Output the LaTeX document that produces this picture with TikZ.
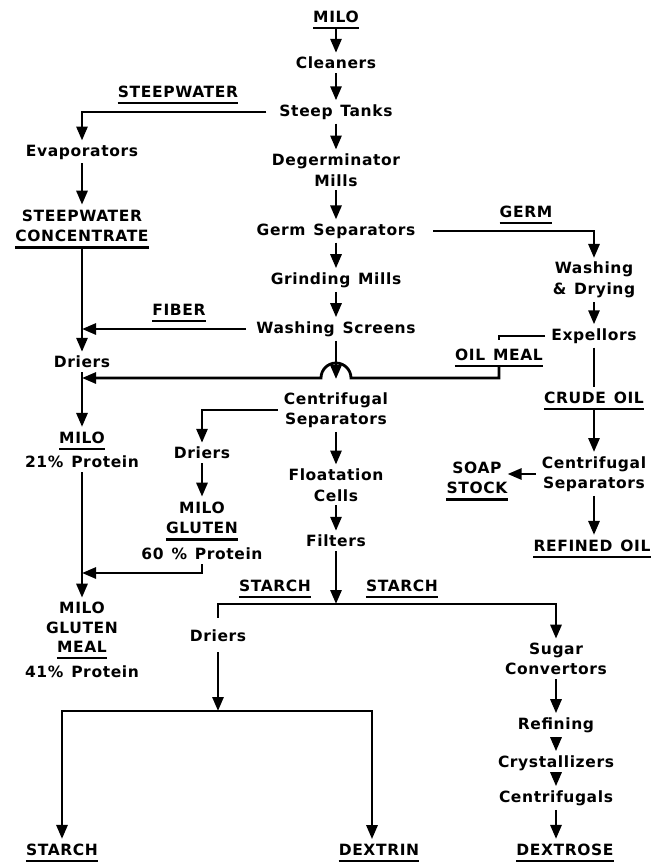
\documentclass[tikz,border=0pt]{standalone}
\usepackage{fontspec}
\newfontfamily\flowfont{DejaVu Sans}[LetterSpace=4, WordSpace=1.3]
\usetikzlibrary{arrows.meta}

\tikzset{
  proc/.style={font=\flowfont\bfseries\fontsize{15.5}{20.5}\selectfont, align=center, inner xsep=6pt, inner ysep=4pt},
  prod/.style={proc, inner xsep=0pt, inner ysep=5pt,
    append after command={(\tikzlastnode.south west) edge[draw, line width=2.6pt] (\tikzlastnode.south east)}},
  flow/.style={line width=2.8pt, -{Triangle[length=14pt,width=11pt]}},
  pipe/.style={line width=2.8pt}
}

\begin{document}
\begin{tikzpicture}[x=1pt,y=-1pt]
            \useasboundingbox (0,0) rectangle (654,862);

            \node[prod] (milo) at (336,17) {MILO};
            \node[proc] (cleaners) at (336,63) {Cleaners};
            \node[proc] (steep) at (336,112) {Steep Tanks};
            \node[proc] (degerm) at (336,170) {Degerminator\\Mills};
            \node[proc] (germsep) at (336,231) {Germ Separators};
            \node[proc] (grind) at (336,280) {Grinding Mills};
            \node[proc] (washscr) at (336,329) {Washing Screens};
            \node[proc] (centsep) at (336,410) {Centrifugal\\Separators};
            \node[proc] (flotcells) at (336,485) {Floatation\\Cells};
            \node[proc] (filters) at (336,541) {Filters};
            \coordinate (split) at (336,604);

            \node[prod] (steepw) at (178,92) {STEEPWATER};
            \node[proc] (evap) at (82,152) {Evaporators};
            \node[prod] (steepconc) at (82,226) {STEEPWATER\\CONCENTRATE};
            \node[prod] (fiber) at (179,310) {FIBER};
            \node[proc] (drierL) at (82,362) {Driers};
            \coordinate (mealin) at (82,378);
            \coordinate (bump) at (351,378);
            \node[prod] (miloL) at (82,438) {MILO};
            \node[proc] (protL) at (82,462) {21\% Protein};
            \coordinate (glutin) at (82,573);
            \node[proc] (mgm) at (82,618) {MILO\\GLUTEN};
            \node[prod] (meal) at (82,647) {MEAL};
            \node[proc] (protM) at (82,672) {41\% Protein};

            \node[proc] (drierC) at (202,453) {Driers};
            \node[prod] (glut) at (202,518) {MILO\\GLUTEN};
            \node[proc] (protC) at (202,554) {60 \% Protein};

            \node[prod] (germ) at (526,212) {GERM};
            \node[proc] (washdry) at (594,280) {Washing\\\& Drying};
            \node[proc] (expel) at (594,336) {Expellors};
            \node[prod] (oilmeal) at (499,355) {OIL MEAL};
            \node[prod] (crude) at (594,398) {CRUDE OIL};
            \node[proc] (centsepR) at (594,474) {Centrifugal\\Separators};
            \node[prod] (soap) at (477,478) {SOAP\\STOCK};
            \node[prod] (refined) at (592,546) {REFINED OIL};

            \node[prod] (starchA) at (275,586) {STARCH};
            \node[prod] (starchC) at (402,586) {STARCH};
            \node[proc] (drierS) at (218,636) {Driers};
            \coordinate (join) at (218,711);
            \node[prod] (starchB) at (62,850) {STARCH};
            \node[prod] (dextrin) at (379,850) {DEXTRIN};

            \node[proc] (sugar) at (556,659) {Sugar\\Convertors};
            \node[proc] (refining) at (556,725) {Refining};
            \node[proc] (cryst) at (556,763) {Crystallizers};
            \node[proc] (centrif) at (556,798) {Centrifugals};
            \node[prod] (dextrose) at (565,850) {DEXTROSE};

            \draw[flow] (milo) -- (cleaners);
            \draw[flow] (cleaners) -- (steep);
            \draw[flow] (steep) -- (degerm);
            \draw[flow] (degerm) -- (germsep);
            \draw[flow] (germsep) -- (grind);
            \draw[flow] (grind) -- (washscr);
            \draw[flow, shorten >=9pt] (washscr) -- (centsep);
            \draw[flow] (centsep) -- (flotcells);
            \draw[flow] (flotcells) -- (filters);
            \draw[flow] (filters) -- (split);

            \draw[flow, shorten <=7pt] (steep.west) -| (evap);
            \draw[flow] (evap) -- (steepconc);
            \draw[flow] (steepconc) -- (drierL);
            \draw[flow, shorten <=4pt] (washscr.west) -- (washscr.west -| drierL);
            \draw[flow] (drierL) -- (miloL);
            \draw[flow] (protL) -- (mgm);

            \draw[flow] (centsep.west) -| (drierC);
            \draw[flow] (drierC) -- (glut);
            \draw[flow] (protC) |- (glutin);

            \draw[flow, shorten <=12pt] (germsep.east) -| (washdry);
            \draw[flow] (washdry) -- (expel);
            \draw[pipe, shorten >=4pt] (expel.west) -| (oilmeal.north);
            \draw[flow] (oilmeal.south) |- (bump) arc[start angle=0, end angle=180, radius=15pt] -- (mealin);
            \draw[pipe] (expel) -- (crude);
            \draw[flow] (crude) -- (centsepR);
            \draw[flow] (centsepR.west) -- (centsepR.west -| soap.east);
            \draw[flow] (centsepR) -- (centsepR |- refined.north);

            \draw[flow] ([yshift=8pt]drierS.north) |- (split) -| (sugar);
            \draw[flow, shorten <=6pt] (drierS) -- (join);
            \draw[flow] (join) -| (starchB);
            \draw[flow] (join) -| ([xshift=-7pt]dextrin.north);

            \draw[flow] (sugar) -- (refining);
            \draw[flow] (refining) -- (cryst);
            \draw[flow] (cryst) -- (centrif);
            \draw[flow] (centrif) -- (centrif |- dextrose.north);
\end{tikzpicture}
\end{document}
